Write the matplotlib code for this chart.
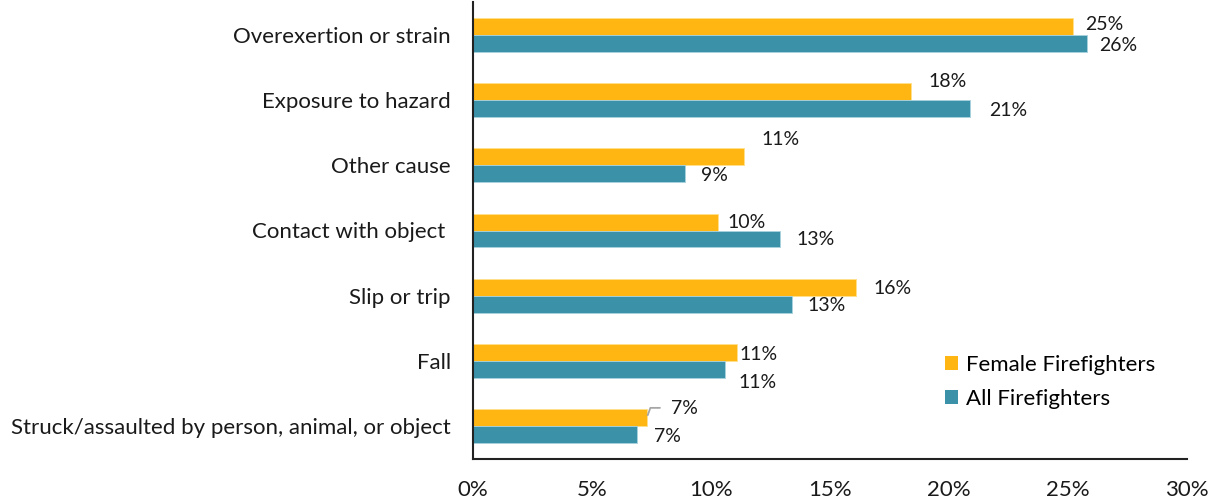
import matplotlib
matplotlib.use("Agg")
import matplotlib.pyplot as plt
from matplotlib.patches import Patch

categories = [
    "Overexertion or strain",
    "Exposure to hazard",
    "Other cause",
    "Contact with object ",
    "Slip or trip",
    "Fall",
    "Struck/assaulted by person, animal, or object",
]
female = [25.2, 18.4, 11.4, 10.3, 16.1, 11.1, 7.3]
all_ff = [25.8, 20.9, 8.9, 12.9, 13.4, 10.6, 6.9]
series_names = ["Female Firefighters", "All Firefighters"]
xticks = [0, 5, 10, 15, 20, 25, 30]

# label offsets (pixels) from the bar end / bar centre
female_off = [(12, 2), (18, 10), (17, 17), (9, 0), (17, -1), (2, -2), (24, 9)]
all_off = [(12, -2), (19, -2), (16, -2), (16, -1), (16, -1), (13, -13), (17, -2)]

ORANGE = "#FFB612"
TEAL = "#3B91A8"
FONT = ["Lato", "DejaVu Sans"]
plt.rcParams["font.family"] = FONT

fig = plt.figure(figsize=(12.2, 5.04), dpi=100)
ax = fig.add_axes([473 / 1220, 45 / 504, 714 / 1220, 457 / 504])

n = len(categories)
pos = [n - 1 - i for i in range(n)]
h = 0.26
yf = [p + h / 2 for p in pos]
ya = [p - h / 2 for p in pos]
ax.barh(yf, female, height=h, color=ORANGE, edgecolor="#FFE08A", linewidth=0.6)
ax.barh(ya, all_ff, height=h, color=TEAL, edgecolor="#A9D3DE", linewidth=0.6)

for v, y, (dx, dy) in zip(female, yf, female_off):
    ax.annotate(f"{v:.0f}%", (v, y), xytext=(dx, dy), textcoords="offset pixels",
                ha="left", va="center", fontsize=14, color="#1a1a1a")
for v, y, (dx, dy) in zip(all_ff, ya, all_off):
    ax.annotate(f"{v:.0f}%", (v, y), xytext=(dx, dy), textcoords="offset pixels",
                ha="left", va="center", fontsize=14, color="#1a1a1a")

# leader line for the smallest female label
v, y = female[-1], yf[-1]
ax.annotate("", (v, y), xytext=(16, 10), textcoords="offset pixels",
            arrowprops=dict(arrowstyle="-", color="#A6A6A6", lw=1.3,
                            connectionstyle="angle,angleA=0,angleB=70,rad=0"))

ax.set_xlim(0, 30)
ax.set_ylim(-0.5, n - 0.5)
ax.set_xticks(xticks)
ax.set_xticklabels([f"{t}%" for t in xticks], fontsize=16)
ax.set_yticks(pos)
ax.set_yticklabels(categories, fontsize=16)
ax.tick_params(axis="both", length=0, colors="#1a1a1a")
ax.tick_params(axis="x", pad=15)
ax.tick_params(axis="y", pad=16)
for s in ["top", "right"]:
    ax.spines[s].set_visible(False)
for s in ["left", "bottom"]:
    ax.spines[s].set_color("#222222")
    ax.spines[s].set_linewidth(1.5)

handles = [Patch(facecolor=ORANGE), Patch(facecolor=TEAL)]
ax.legend(handles, series_names, loc="upper left", bbox_to_anchor=(945 / 1220, 1 - 355 / 504),
          bbox_transform=fig.transFigure, frameon=False, fontsize=16,
          handlelength=0.6, handleheight=0.6, handletextpad=0.35, labelspacing=0.62,
          borderaxespad=0, borderpad=0)

fig.savefig("out.png", dpi=100, facecolor="white")
